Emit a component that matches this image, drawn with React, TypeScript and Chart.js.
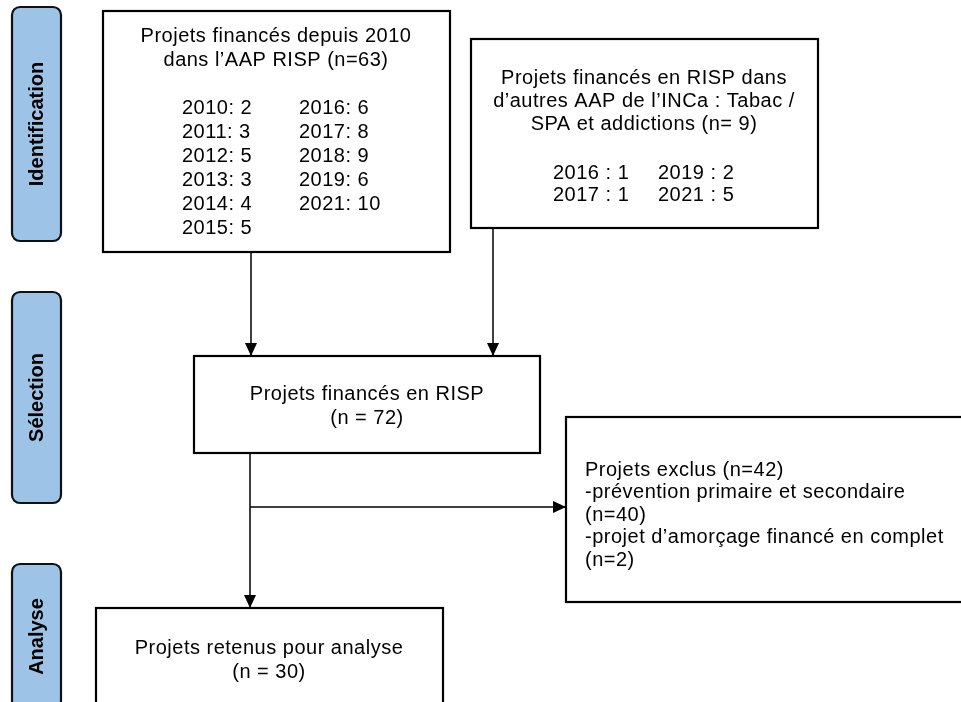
import React, { useEffect, useRef } from "react";
import { Chart, registerables } from "chart.js";

Chart.register(...registerables);

const W = 961;
const H = 702;

// ---- data ----
const phaseLabels = ["Identification", "Sélection", "Analyse"];
const rispYears = ["2010", "2011", "2012", "2013", "2014", "2015", "2016", "2017", "2018", "2019", "2021"];
const rispCounts = [2, 3, 5, 3, 4, 5, 6, 8, 9, 6, 10];
const otherYears = ["2016", "2017", "2019", "2021"];
const otherCounts = [1, 1, 2, 5];
const nRisp = 63;
const nOther = 9;
const nExclPrevention = 40;
const nExclSeed = 2;
const nMerged = nRisp + nOther;
const nExcluded = nExclPrevention + nExclSeed;
const nRetained = nMerged - nExcluded;

// ---- layout (pixel units of the linear scales) ----
const phaseBoxes = [
  { x0: 12, y0: 7, x1: 61, y1: 241 },
  { x0: 12, y0: 292, x1: 61, y1: 503 },
  { x0: 12, y0: 564, x1: 61, y1: 709 },
];
const boxes = [
  { x0: 103, y0: 11, x1: 450, y1: 252 },
  { x0: 471, y0: 39, x1: 818, y1: 228 },
  { x0: 194, y0: 356, x1: 540, y1: 453 },
  { x0: 566, y0: 417, x1: 970, y1: 602 },
  { x0: 96, y0: 608, x1: 443, y1: 715 },
];
const connectors = [
  { from: [251, 252], to: [251, 356], dir: "down" },
  { from: [493, 228], to: [493, 356], dir: "down" },
  { from: [250, 453], to: [250, 608], dir: "down" },
  { from: [250, 507], to: [566, 507], dir: "right" },
];

type TextItem = { t: string; x: number; y: number; align: CanvasTextAlign };

function buildTexts(): TextItem[] {
  const out: TextItem[] = [];
  out.push({ t: "Projets financés depuis 2010", x: 276, y: 36, align: "center" });
  out.push({ t: `dans l’AAP RISP (n=${nRisp})`, x: 276, y: 60, align: "center" });
  const rowsY = [108, 132, 156, 180, 204, 228];
  rispYears.forEach((yr, i) => {
    const col = i < 6 ? 0 : 1;
    const row = i < 6 ? i : i - 6;
    out.push({ t: `${yr}: ${rispCounts[i]}`, x: col === 0 ? 182 : 299, y: rowsY[row], align: "left" });
  });
  out.push({ t: "Projets financés en RISP dans", x: 644, y: 78, align: "center" });
  out.push({ t: "d’autres AAP de l’INCa : Tabac /", x: 644, y: 101, align: "center" });
  out.push({ t: `SPA et addictions (n= ${nOther})`, x: 644, y: 124, align: "center" });
  const rows2 = [173, 195];
  otherYears.forEach((yr, i) => {
    const col = i < 2 ? 0 : 1;
    const row = i % 2;
    out.push({ t: `${yr} : ${otherCounts[i]}`, x: col === 0 ? 553 : 658, y: rows2[row], align: "left" });
  });
  out.push({ t: "Projets financés en RISP", x: 367, y: 394, align: "center" });
  out.push({ t: `(n = ${nMerged})`, x: 367, y: 418, align: "center" });
  const exLines = [
    `Projets exclus (n=${nExcluded})`,
    "-prévention primaire et secondaire",
    `(n=${nExclPrevention})`,
    "-projet d’amorçage financé en complet",
    `(n=${nExclSeed})`,
  ];
  exLines.forEach((t, i) => out.push({ t, x: 585, y: 470 + i * 22.5, align: "left" }));
  out.push({ t: "Projets retenus pour analyse", x: 269, y: 648, align: "center" });
  out.push({ t: `(n = ${nRetained})`, x: 269, y: 672, align: "center" });
  return out;
}

const flowPlugin = {
  id: "flow",
  beforeDatasetsDraw(chart: any) {
    const ctx: CanvasRenderingContext2D = chart.ctx;
    const xs = chart.scales.x;
    const ys = chart.scales.y;
    const px = (v: number) => xs.getPixelForValue(v);
    const py = (v: number) => ys.getPixelForValue(v);
    ctx.save();
    phaseBoxes.forEach((b) => {
      const x0 = px(b.x0), x1 = px(b.x1), y0 = py(b.y0), y1 = py(b.y1);
      ctx.beginPath();
      (ctx as any).roundRect(x0, y0, x1 - x0, y1 - y0, 8);
      ctx.fillStyle = "#9DC3E6";
      ctx.fill();
      ctx.lineWidth = 2.2;
      ctx.strokeStyle = "#111";
      ctx.stroke();
    });
    boxes.forEach((b) => {
      const x0 = px(b.x0), x1 = px(b.x1), y0 = py(b.y0), y1 = py(b.y1);
      ctx.fillStyle = "#fff";
      ctx.fillRect(x0, y0, x1 - x0, y1 - y0);
      ctx.lineWidth = 2.2;
      ctx.strokeStyle = "#000";
      ctx.strokeRect(x0, y0, x1 - x0, y1 - y0);
    });
    ctx.restore();
  },
  afterDatasetsDraw(chart: any) {
    const ctx: CanvasRenderingContext2D = chart.ctx;
    const xs = chart.scales.x;
    const ys = chart.scales.y;
    const px = (v: number) => xs.getPixelForValue(v);
    const py = (v: number) => ys.getPixelForValue(v);
    ctx.save();
    ctx.fillStyle = "#000";
    connectors.forEach((c) => {
      const tx = px(c.to[0]);
      const ty = py(c.to[1]);
      ctx.beginPath();
      if (c.dir === "down") {
        ctx.moveTo(tx, ty);
        ctx.lineTo(tx - 6, ty - 13);
        ctx.lineTo(tx + 6, ty - 13);
      } else {
        ctx.moveTo(tx, ty);
        ctx.lineTo(tx - 13, ty - 6);
        ctx.lineTo(tx - 13, ty + 6);
      }
      ctx.closePath();
      ctx.fill();
    });
    ctx.fillStyle = "#000";
    ctx.textBaseline = "middle";
    ctx.font = '20px "Liberation Sans", Arial, sans-serif';
    (ctx as any).letterSpacing = "0.5px";
    buildTexts().forEach((it) => {
      ctx.textAlign = it.align;
      ctx.fillText(it.t, px(it.x), py(it.y));
    });
    ctx.font = 'bold 20px "Liberation Sans", Arial, sans-serif';
    (ctx as any).letterSpacing = "0px";
    ctx.textAlign = "center";
    phaseBoxes.forEach((b, i) => {
      const cx = px((b.x0 + b.x1) / 2);
      const cy = py(i === 2 ? 636.5 : (b.y0 + b.y1) / 2);
      ctx.save();
      ctx.translate(cx, cy);
      ctx.rotate(-Math.PI / 2);
      ctx.fillText(phaseLabels[i], 0, 1);
      ctx.restore();
    });
    ctx.restore();
  },
};

export default function App() {
  const ref = useRef<HTMLCanvasElement | null>(null);
  useEffect(() => {
    if (!ref.current) return;
    const chart = new Chart(ref.current, {
      type: "scatter",
      data: {
        datasets: connectors.map((c) => ({
          data: [
            { x: c.from[0], y: c.from[1] },
            { x: c.to[0], y: c.to[1] },
          ],
          showLine: true,
          borderColor: "#000",
          borderWidth: 1.5,
          pointRadius: 0,
          fill: false,
        })),
      },
      options: {
        responsive: false,
        animation: false,
        events: [],
        layout: { padding: 0 },
        plugins: { legend: { display: false }, tooltip: { enabled: false } },
        scales: {
          x: { type: "linear", min: 0, max: W, display: false },
          y: { type: "linear", min: 0, max: H, reverse: true, display: false },
        },
      },
      plugins: [flowPlugin],
    } as any);
    return () => chart.destroy();
  }, []);
  return (
    <div style={{ position: "fixed", left: 0, top: 0, width: W, height: H, background: "#fff" }}>
      <canvas ref={ref} width={W} height={H} style={{ display: "block" }} />
    </div>
  );
}
